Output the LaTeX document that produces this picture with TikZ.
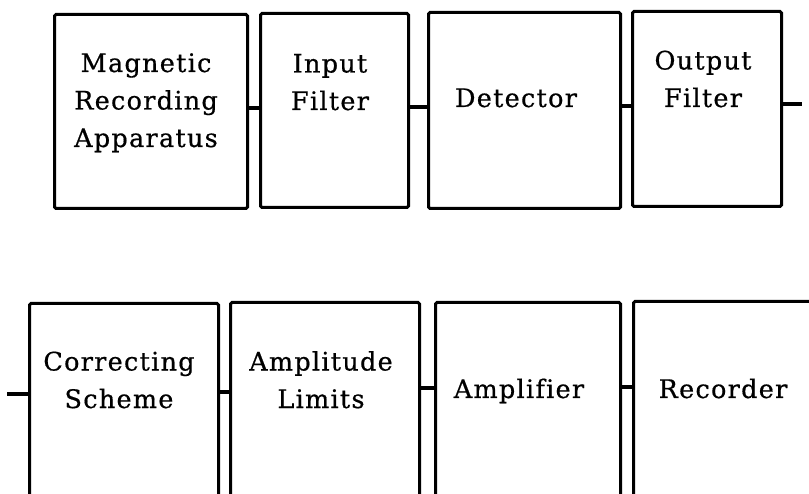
\documentclass[tikz,border=0pt]{standalone}
\usepackage{fontspec}
\setmainfont{DejaVu Serif}[LetterSpace=5, Ligatures=NoCommon, FakeBold=0.6]
\begin{document}
\begin{tikzpicture}[x=1pt,y=-1pt,
  blk/.style={draw, line width=3pt, rounded corners=1.5pt, rectangle,
              inner sep=0pt, anchor=north west},
  lbl/.style={align=center, inner sep=0pt, anchor=base,
              font=\fontsize{25.5}{37.5}\selectfont},
  wire/.style={line width=3.2pt}]
\useasboundingbox (0,0) rectangle (809,494);
\clip (0,0) rectangle (809,494);

% upper chain of blocks
\node[blk, minimum width=193, minimum height=194] (mag) at (53,13) {};
\node[blk, minimum width=148, minimum height=194] (inf) at (259,12) {};
\node[blk, minimum width=192, minimum height=196] (det) at (427,11) {};
\node[blk, minimum width=149, minimum height=195] (ouf) at (631,10) {};

% lower chain of blocks (running past the page edge)
\node[blk, minimum width=189, minimum height=220] (cor) at (28,302) {};
\node[blk, minimum width=189, minimum height=220] (amp) at (229,301) {};
\node[blk, minimum width=185, minimum height=220] (apf) at (434,301) {};
\node[blk, minimum width=220, minimum height=220] (rec) at (632,300) {};

% block labels (base anchor sits on the last line)
\node[lbl] (tmag) at (146,147) {Magnetic\\Recording\\Apparatus};
\node[lbl] (tinf) at (330,110) {Input\\Filter};
\node[lbl] (tdet) at (516,107) {Detector};
\node[lbl] (touf) at (703,107) {Output\\Filter};
\node[lbl] (tcor) at (119,408) {Correcting\\Scheme};
\node[lbl] (tamp) at (321,408) {Amplitude\\Limits};
\node[lbl] (tapf) at (519,398) {Amplifier};
\node[lbl] (trec) at (723,398) {Recorder};

% connecting leads
\coordinate (outend) at (802,104);
\coordinate (inend) at (7,394);
\draw[wire] (mag.east |- 0,108) -- (inf.west |- 0,108);
\draw[wire] (inf.east |- 0,107) -- (det.west |- 0,107);
\draw[wire] (det.east |- 0,106) -- (ouf.west |- 0,106);
\draw[wire] (ouf.east |- outend) -- (outend);
\draw[wire] (inend) -- (cor.west |- inend);
\draw[wire] (cor.east |- 0,392) -- (amp.west |- 0,392);
\draw[wire] (amp.east |- 0,388) -- (apf.west |- 0,388);
\draw[wire] (apf.east |- 0,387) -- (rec.west |- 0,387);
\end{tikzpicture}
\end{document}
